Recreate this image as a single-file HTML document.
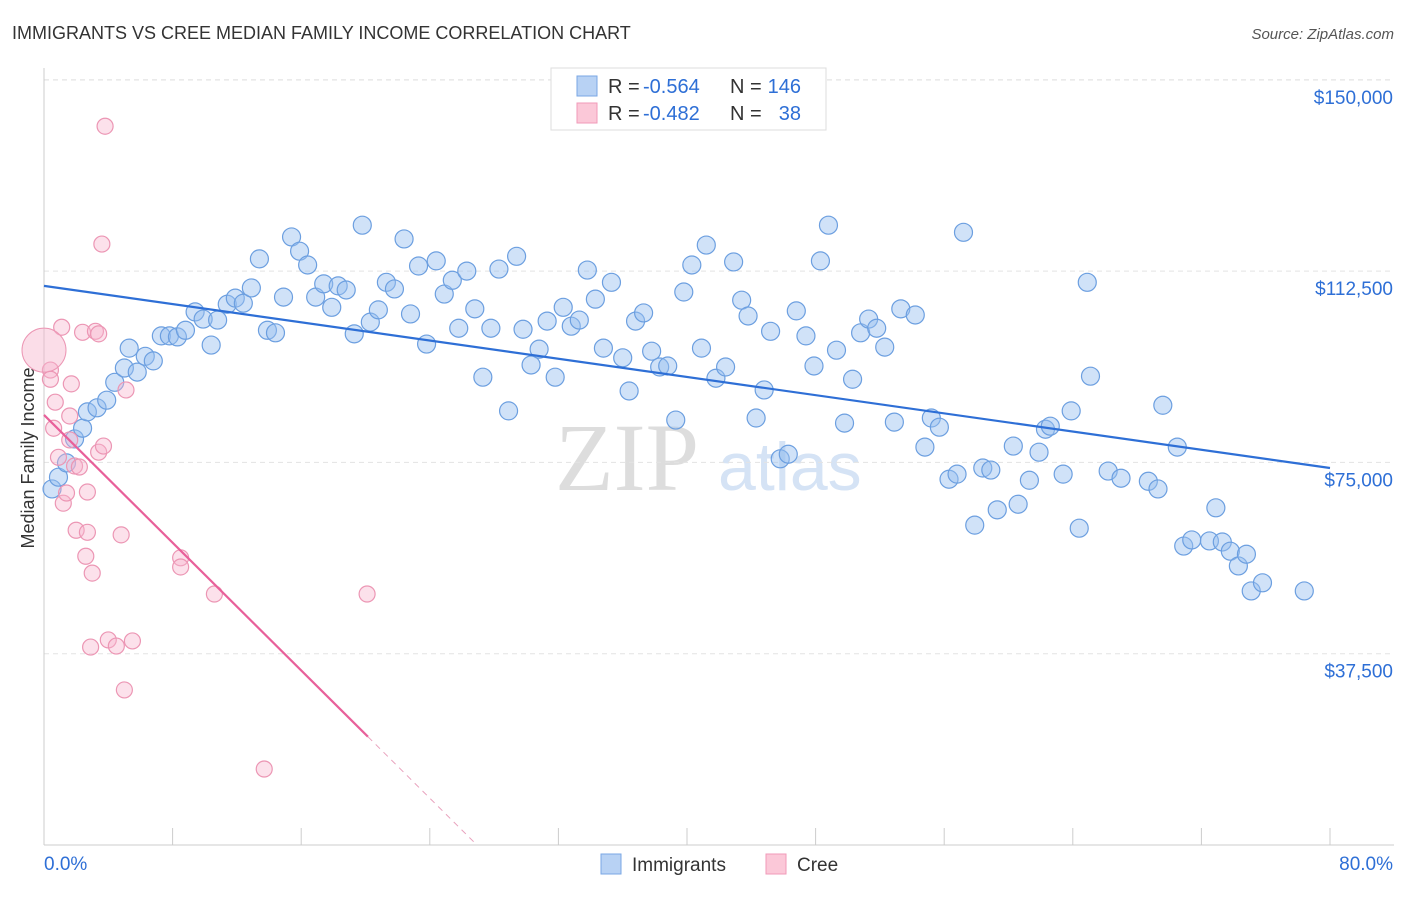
<!DOCTYPE html>
<html><head><meta charset="utf-8"><style>
body{margin:0;background:#fff;font-family:"Liberation Sans",sans-serif}
svg text{font-family:"Liberation Sans",sans-serif}
</style></head><body>
<svg id="chart" width="1406" height="892">
<text x="12" y="39" font-size="18" fill="#333">IMMIGRANTS VS CREE MEDIAN FAMILY INCOME CORRELATION CHART</text>
<text x="1394" y="39" font-size="15" fill="#555" font-style="italic" text-anchor="end">Source: ZipAtlas.com</text>
<text x="0" y="0" font-size="18" fill="#333" transform="translate(34,458) rotate(-90)" text-anchor="middle">Median Family Income</text>
<text x="555" y="490" font-size="96" fill="#ddd" style="font-family:'Liberation Serif',serif">ZIP</text>
<text x="718" y="490" font-size="68" fill="#d5e3f5">atlas</text>
<g id="grid"></g><g id="axes"></g><g id="pts"></g><g id="lines"></g>
<g>
<rect x="551" y="68" width="275" height="62" fill="#fff" stroke="#ddd"/>
<rect x="577" y="76" width="20" height="20" fill="#b8d2f4" stroke="#7aa7e4"/>
<rect x="577" y="103" width="20" height="20" fill="#fbc8d8" stroke="#f09ab8"/>
<text x="608" y="93" font-size="20" fill="#333">R =</text>
<text x="643" y="93" font-size="20" fill="#2e6fd6">-0.564</text>
<text x="730" y="93" font-size="20" fill="#333">N =</text>
<text x="801" y="93" font-size="20" fill="#2e6fd6" text-anchor="end">146</text>
<text x="608" y="120" font-size="20" fill="#333">R =</text>
<text x="643" y="120" font-size="20" fill="#2e6fd6">-0.482</text>
<text x="730" y="120" font-size="20" fill="#333">N =</text>
<text x="801" y="120" font-size="20" fill="#2e6fd6" text-anchor="end">38</text>
</g>
<g>
<rect x="601" y="854" width="20" height="20" fill="#b8d2f4" stroke="#7aa7e4"/>
<text x="632" y="871" font-size="19" fill="#333">Immigrants</text>
<rect x="766" y="854" width="20" height="20" fill="#fbc8d8" stroke="#f09ab8"/>
<text x="797" y="871" font-size="19" fill="#333">Cree</text>
</g>
</svg>
<script>
const yTicks=[37500,75000,112500,150000];
const yTickLabels=["$37,500","$75,000","$112,500","$150,000"];
const xTicks=[0,8,16,24,32,40,48,56,64,72,80];
const immX=[0.5,0.9,1.4,1.9,2.4,2.7,3.3,3.9,4.4,5.0,5.3,5.8,6.3,6.8,7.3,7.8,8.3,8.8,9.4,9.9,10.4,10.8,11.4,11.9,12.4,12.9,13.4,13.9,14.4,14.9,15.4,15.9,16.4,16.9,17.4,17.9,18.3,18.8,19.3,19.8,20.3,20.8,21.3,21.8,22.4,22.8,23.3,23.8,24.4,24.9,25.4,25.8,26.3,26.8,27.3,27.8,28.3,28.9,29.4,29.8,30.3,30.8,31.3,31.8,32.3,32.8,33.3,33.8,34.3,34.8,35.3,36.0,36.4,36.8,37.3,37.8,38.3,38.8,39.3,39.8,40.3,40.9,41.2,41.8,42.4,42.9,43.4,43.8,44.3,44.8,45.2,45.8,46.3,46.8,47.4,47.9,48.3,48.8,49.3,49.8,50.3,50.8,51.3,51.8,52.3,52.9,53.3,54.2,54.8,55.2,55.7,56.3,56.8,57.2,57.9,58.4,58.9,59.3,60.3,60.6,61.3,61.9,62.3,62.6,63.4,63.9,64.4,64.9,65.1,66.2,67.0,68.7,69.3,69.6,70.5,70.9,71.4,72.5,72.9,73.3,73.8,74.3,74.8,75.1,75.8,78.4];
const immY=[69.8,72.1,74.9,79.6,81.7,84.9,85.7,87.2,90.7,93.5,97.4,92.7,95.8,94.9,99.8,99.8,99.6,100.9,104.5,103.1,98.0,102.9,106.0,107.2,106.2,109.2,114.9,100.9,100.4,107.4,119.2,116.4,113.7,107.4,110.0,105.4,109.6,108.8,100.2,121.5,102.5,104.9,110.3,109.0,118.8,104.1,113.5,98.2,114.5,108.0,110.7,101.3,112.5,105.1,91.7,101.3,112.9,85.1,115.4,101.1,94.1,97.2,102.7,91.7,105.4,101.7,102.9,112.7,107.0,97.4,110.3,95.5,89.0,102.7,104.3,96.8,93.7,93.9,83.3,108.4,113.7,97.4,117.6,91.5,93.7,114.3,106.8,103.7,83.7,89.2,100.7,75.7,76.6,104.7,99.8,93.9,114.5,121.5,97.0,82.7,91.3,100.4,103.1,101.3,97.6,82.9,105.1,103.9,78.0,83.7,81.9,71.7,72.7,120.1,62.7,73.9,73.5,65.7,78.2,66.8,71.5,77.0,81.5,82.1,72.7,85.1,62.1,110.3,91.9,73.3,71.9,71.3,69.8,86.2,78.0,58.6,59.8,59.6,66.1,59.4,57.6,54.7,57.0,49.8,51.4,49.8];
const creeX=[0.4,0.4,0.7,0.6,1.1,0.9,1.2,1.4,1.6,1.6,1.7,1.9,2.0,2.2,2.4,2.6,2.7,2.7,2.9,3.0,3.2,3.4,3.4,3.6,3.7,3.8,4.0,4.5,4.8,5.0,5.1,5.5,8.5,8.5,10.6,13.7,20.1];
const creeY=[93.1,91.3,86.8,81.7,101.5,76.0,67.0,69.0,84.1,79.4,90.4,74.3,61.7,74.1,100.5,56.6,61.3,69.2,38.8,53.3,100.7,100.2,77.0,117.8,78.2,140.9,40.2,39.0,60.8,30.4,89.2,40.0,56.3,54.5,49.2,14.9,49.2];
const creeBig=[0,97.0];
const immTrend=[109.6,73.9];
const creeTrend=[84.3,-3.13,20.15,26.9];
const NS="http://www.w3.org/2000/svg";
const X=v=>44+v*1286/80, Y=v=>845-v*1000*191.3/37500;
function mk(g,t,a){const e=document.createElementNS(NS,t);for(const k in a)e.setAttribute(k,a[k]);document.getElementById(g).appendChild(e);return e;}
yTicks.forEach((t,i)=>{const l=mk('grid','line',{x1:44,x2:1394,y1:Y(t/1000),y2:Y(t/1000),stroke:'#e3e3e3','stroke-dasharray':'5,4'});


const tx=mk('grid','text',{x:1393,y:Y(t/1000)+24,'font-size':19,fill:'#2e6fd6','text-anchor':'end'});tx.textContent=yTickLabels[i];

});
const topLine=mk('grid','line',{x1:44,x2:1394,y1:80,y2:80,stroke:'#e3e3e3','stroke-dasharray':'5,4'});


mk('axes','line',{x1:44,x2:44,y1:68,y2:845,stroke:'#ccc'});
mk('axes','line',{x1:44,x2:1394,y1:845,y2:845,stroke:'#ccc'});
xTicks.forEach(t=>{const l=mk('axes','line',{x1:X(t),x2:X(t),y1:828,y2:845,stroke:'#ccc'});

});
let a=mk('axes','text',{x:44,y:870,'font-size':19,fill:'#2e6fd6'});a.textContent='0.0%';


a=mk('axes','text',{x:1393,y:870,'font-size':19,fill:'#2e6fd6','text-anchor':'end'});a.textContent='80.0%';


immX.forEach((x,i)=>{const c=mk('pts','circle',{cx:X(x),cy:Y(immY[i]),r:9,fill:'rgba(150,190,240,0.45)',stroke:'#6c9fe0','stroke-width':1.2});

});
creeX.forEach((x,i)=>{const c=mk('pts','circle',{cx:X(x),cy:Y(creeY[i]),r:8,fill:'rgba(247,180,204,0.4)',stroke:'#ec96b4','stroke-width':1.2});

});
const cb=mk('pts','circle',{cx:X(creeBig[0]),cy:Y(creeBig[1]),r:22,fill:'rgba(247,180,204,0.45)',stroke:'#ec96b4'});


let t1=mk('lines','line',{x1:X(0),y1:Y(immTrend[0]),x2:X(80),y2:Y(immTrend[1]),stroke:'#2e6fd6','stroke-width':2.2});


const cyf=x=>creeTrend[0]+creeTrend[1]*x;
let t2=mk('lines','line',{x1:X(0),y1:Y(cyf(0)),x2:X(creeTrend[2]),y2:Y(cyf(creeTrend[2])),stroke:'#e8609a','stroke-width':2.2});


let t3=mk('lines','line',{x1:X(creeTrend[2]),y1:Y(cyf(creeTrend[2])),x2:X(creeTrend[3]),y2:Y(Math.max(cyf(creeTrend[3]),0)),stroke:'#e8a0bc','stroke-width':1,'stroke-dasharray':'6,5'});


</script>
</body></html>
